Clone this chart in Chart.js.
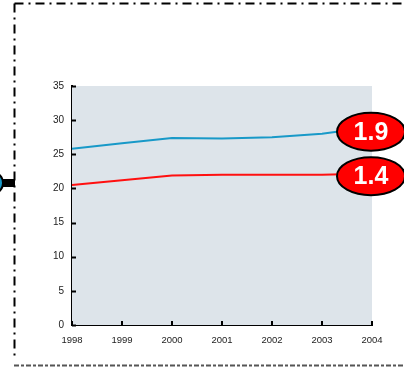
<!DOCTYPE html>
<html lang="en">
    <head>
        <meta charset="UTF-8">
        <title>Line chart 1998-2004</title>
        <script src="https://cdn.jsdelivr.net/npm/chart.js"></script>
        <style>
            html, body { margin: 0; padding: 0; background: #fff; }
            canvas { display: block; }
        </style>
    </head>
    <body>
        <canvas id="lineChart" width="404" height="367"></canvas>

        <script>
            // values
            const years = ['1998', '1999', '2000', '2001', '2002', '2003', '2004'];
            const blueSeries = [25.8, 26.6, 27.4, 27.3, 27.5, 28.0, 29.0];
            const redSeries = [20.5, 21.2, 21.9, 22.0, 22.0, 22.0, 22.2];
            const yTicks = [0, 5, 10, 15, 20, 25, 30, 35];
            const badgeTexts = ['1.9', '1.4'];
            const badgeValues = [28.3, 21.8];

            // frame, inner tick marks, badges and the left marker
            const decorations = {
                id: 'decorations',
                beforeDraw(chart) {
                    const c = chart.ctx;
                    c.save();
                    c.strokeStyle = '#000';
                    c.lineWidth = 2;
                    c.setLineDash([9, 5, 2, 5]);
                    c.beginPath();
                    c.moveTo(14.5, 3.5);
                    c.lineTo(404, 3.5);
                    c.moveTo(14.5, 3.5);
                    c.lineTo(14.5, 360);
                    c.stroke();
                    c.strokeStyle = '#555';
                    c.setLineDash([5, 2, 3, 2]);
                    c.beginPath();
                    c.moveTo(14, 365.5);
                    c.lineTo(404, 365.5);
                    c.stroke();
                    c.restore();
                },
                afterDraw(chart) {
                    const c = chart.ctx;
                    const x = chart.scales.x;
                    const y = chart.scales.y;
                    const area = chart.chartArea;
                    c.save();
                    // inner ticks
                    c.strokeStyle = '#000';
                    c.lineWidth = 2;
                    c.beginPath();
                    yTicks.forEach(v => {
                        const py = Math.round(y.getPixelForValue(v)) + 0.5;
                        c.moveTo(area.left, py);
                        c.lineTo(area.left + 4, py);
                    });
                    years.forEach((yr, i) => {
                        const px = Math.round(x.getPixelForValue(i));
                        c.moveTo(px, area.bottom);
                        c.lineTo(px, area.bottom - 4);
                    });
                    c.stroke();

                    // badges at the end of each line
                    const cx = x.getPixelForValue(years.length - 1) - 1;
                    badgeTexts.forEach((t, i) => {
                        const cy = y.getPixelForValue(badgeValues[i]);
                        c.beginPath();
                        c.ellipse(cx, cy, 34, 19, 0, 0, Math.PI * 2);
                        c.fillStyle = '#ff0000';
                        c.fill();
                        c.lineWidth = 2;
                        c.strokeStyle = '#000';
                        c.stroke();
                        c.fillStyle = '#fff';
                        c.font = 'bold 25px "Liberation Sans", Arial, sans-serif';
                        c.textAlign = 'center';
                        c.textBaseline = 'middle';
                        c.fillText(t, cx, cy + 1);
                    });

                    // cut-off marker on the left edge
                    c.fillStyle = '#000';
                    c.fillRect(0, 179, 15, 8);
                    c.beginPath();
                    c.arc(-8, 183, 11, 0, Math.PI * 2);
                    c.fillStyle = '#1899c8';
                    c.fill();
                    c.lineWidth = 2;
                    c.strokeStyle = '#000';
                    c.stroke();
                    c.restore();
                }
            };

            const areaBackground = {
                id: 'areaBackground',
                beforeDatasetsDraw(chart) {
                    const a = chart.chartArea;
                    chart.ctx.save();
                    chart.ctx.fillStyle = '#dde4ea';
                    chart.ctx.fillRect(a.left, a.top, a.right - a.left, a.bottom - a.top);
                    chart.ctx.restore();
                }
            };

            const ctx = document.getElementById('lineChart').getContext('2d');
            const chart = new Chart(ctx, {
                type: 'line',
                data: {
                    labels: years,
                    datasets: [{
                        data: blueSeries,
                        borderColor: '#1899c8',
                        borderWidth: 2,
                        pointRadius: 0,
                        tension: 0
                    }, {
                        data: redSeries,
                        borderColor: '#ff1010',
                        borderWidth: 2,
                        pointRadius: 0,
                        tension: 0
                    }]
                },
                options: {
                    responsive: false,
                    animation: false,
                    layout: { padding: { top: 86, right: 32, left: 0, bottom: 0 } },
                    plugins: {
                        legend: { display: false },
                        tooltip: { enabled: false }
                    },
                    scales: {
                        x: {
                            offset: false,
                            grid: { display: false, drawTicks: false },
                            border: { display: true, color: '#000', width: 2 },
                            ticks: {
                                padding: 10,
                                maxRotation: 0,
                                autoSkip: false,
                                color: '#222',
                                font: { family: '"Liberation Sans", Arial, sans-serif', size: 9.5 }
                            },
                            afterFit(scale) { scale.height = 42; }
                        },
                        y: {
                            min: 0,
                            max: 35,
                            grid: { display: false, drawTicks: false },
                            border: { display: true, color: '#000', width: 2 },
                            ticks: {
                                stepSize: 5,
                                padding: 8,
                                color: '#222',
                                font: { family: '"Liberation Sans", Arial, sans-serif', size: 10 }
                            },
                            afterFit(scale) { scale.width = 72; }
                        }
                    }
                },
                plugins: [areaBackground, decorations]
            });
        </script>
    </body>
</html>
